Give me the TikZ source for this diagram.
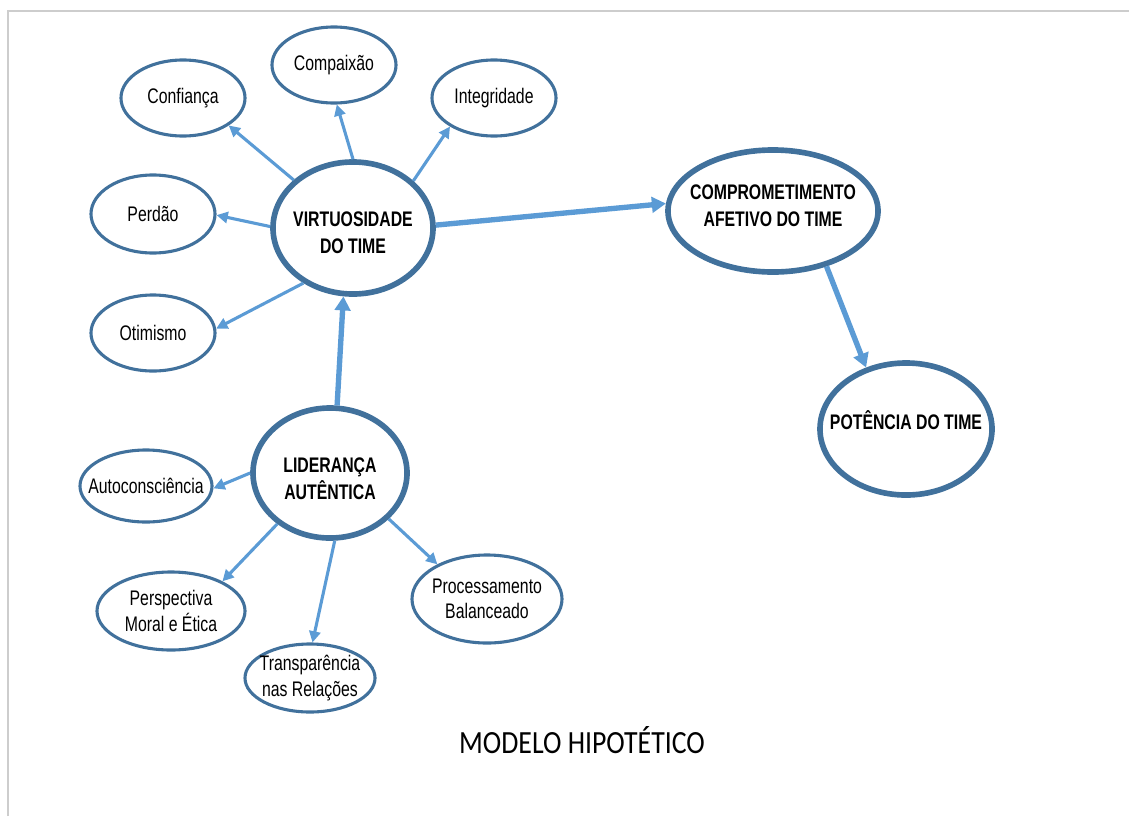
\documentclass[tikz,border=0pt]{standalone}
\usepackage{fontspec}
\setmainfont{Liberation Sans}[FakeStretch=0.75]
\newfontfamily\titlefont{Carlito}[FakeStretch=0.86]
\usepackage{tikz}
\usepackage{xcolor}
\definecolor{ovalblue}{RGB}{65, 113, 156}
\definecolor{arrowblue}{RGB}{91, 155, 213}
\definecolor{framegray}{RGB}{205, 205, 205}
\usetikzlibrary{shapes.geometric,arrows.meta}

\begin{document}
\begin{tikzpicture}[x=0.025cm, y=-0.025cm,
    oval/.style={ellipse, draw=ovalblue, line width=2.2pt, fill=white, inner sep=0pt},
    bigoval/.style={oval, line width=4pt},
    ovaltext/.style={font=\fontsize{15}{18}\selectfont, align=center, inner sep=0pt},
    boldtext/.style={ovaltext, font=\fontsize{15}{19}\selectfont\bfseries},
    thinarrow/.style={arrowblue, line width=2.2pt, -{Triangle[length=8pt, width=8pt]}},
    thickarrow/.style={arrowblue, line width=3.8pt, -{Triangle[length=10pt, width=11pt]}}]
    \useasboundingbox (0, 0) rectangle (1129, 816);

    % Page frame
    \draw[framegray, line width=1.4pt] (8, 816) -- (8, 11) -- (1129, 11);

    % Central constructs
    \node[bigoval, minimum width=4.0cm, minimum height=3.3cm,
        label={[boldtext, yshift=-3.5pt]center:VIRTUOSIDADE\\DO TIME}] (virt) at (353, 228) {};
    \node[bigoval, minimum width=3.85cm, minimum height=3.25cm,
        label={[boldtext, yshift=-4pt]center:LIDERANÇA\\AUTÊNTICA}] (lid) at (330, 473) {};
    \node[bigoval, minimum width=5.25cm, minimum height=3.05cm,
        label={[boldtext, yshift=4pt]center:COMPROMETIMENTO\\AFETIVO DO TIME}] (compr) at (773, 211) {};
    \node[bigoval, minimum width=4.3cm, minimum height=3.3cm,
        label={[boldtext, yshift=6.5pt]center:POTÊNCIA DO TIME}] (pot) at (906, 429) {};

    % Virtues of the team
    \node[oval, minimum width=3.1cm, minimum height=1.9cm,
        label={[ovaltext]center:Confiança}] (conf) at (183, 98) {};
    \node[oval, minimum width=3.1cm, minimum height=1.9cm,
        label={[ovaltext]center:Compaixão}] (compa) at (334, 65) {};
    \node[oval, minimum width=3.1cm, minimum height=1.9cm,
        label={[ovaltext]center:Integridade}] (integ) at (494, 98) {};
    \node[oval, minimum width=3.1cm, minimum height=1.95cm,
        label={[ovaltext]center:Perdão}] (perd) at (153, 214) {};
    \node[oval, minimum width=3.1cm, minimum height=1.9cm,
        label={[ovaltext]center:Otimismo}] (otim) at (153, 333) {};

    % Dimensions of authentic leadership
    \node[oval, minimum width=3.3cm, minimum height=1.8cm,
        label={[ovaltext]center:Autoconsciência}] (auto) at (146, 486) {};
    \node[oval, minimum width=3.7cm, minimum height=1.95cm,
        label={[ovaltext]center:{Perspectiva\\Moral e Ética}}] (persp) at (171, 611) {};
    \node[oval, minimum width=3.25cm, minimum height=1.7cm,
        label={[ovaltext]center:{Transparência\\nas Relações}}] (transp) at (310, 678) {};
    \node[oval, minimum width=3.75cm, minimum height=2.2cm,
        label={[ovaltext]center:{Processamento\\Balanceado}}] (proc) at (487, 599) {};

    % Thin arrows
    \foreach \from/\to in {virt.141/conf.-31, virt.90/compa.-86, virt.38/integ.-147,
        virt.179/perd.-1, virt.-132/otim.4, lid.180/auto.-2, lid.-136/persp.30,
        lid.-86/transp.86, lid.-38/proc.145} {
        \draw[thinarrow] (\from) -- (\to);
    }

    % Thick arrows
    \draw[thickarrow] (lid.84) -- (virt.-98);
    \draw[thickarrow] (virt.2) -- (compr.176);
    \draw[thickarrow] (compr.-46) -- (pot.123);

    \node[font=\titlefont\fontsize{23}{28}\selectfont] (title) at (582, 740) {MODELO HIPOTÉTICO};
\end{tikzpicture}
\end{document}
